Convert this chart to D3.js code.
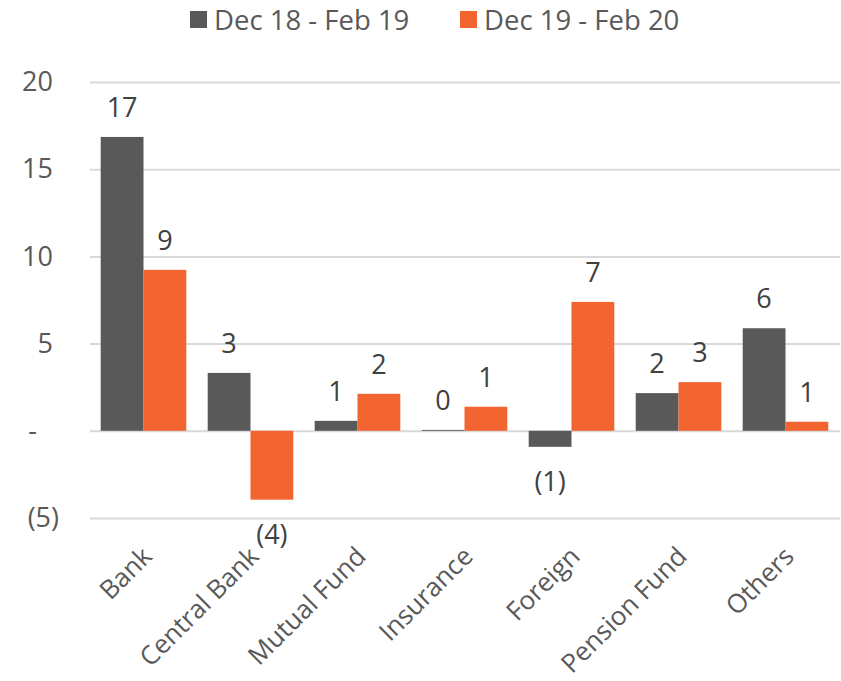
<!DOCTYPE html>
<html>
<head>
<meta charset="utf-8">
<script src="https://cdn.jsdelivr.net/npm/d3@7"></script>
<style>
  body { margin: 0; background: #fff; }
  text { font-family: "Open Sans", sans-serif; }
</style>
</head>
<body>
<div id="chart"></div>
<script>
const categories = ["Bank", "Central Bank", "Mutual Fund", "Insurance", "Foreign", "Pension Fund", "Others"];
const seriesNames = ["Dec 18 - Feb 19", "Dec 19 - Feb 20"];
const dec18 = [16.85, 3.32, 0.57, 0.05, -0.92, 2.16, 5.88];
const dec19 = [9.23, -3.95, 2.12, 1.38, 7.39, 2.79, 0.52];
const yTicks = [-5, 0, 5, 10, 15, 20];
const colors = ["#595959", "#f26531"];

const width = 841, height = 681;
const svg = d3.select("#chart").append("svg")
  .attr("width", width)
  .attr("height", height);

const x = d3.scaleBand().domain(categories).range([90, 839])
  .paddingInner(0.2).paddingOuter(0.1);
const xs = d3.scaleBand().domain(seriesNames).range([0, x.bandwidth()]);
const y = d3.scaleLinear().domain([-5, 20]).range([518, 82]);

// accounting style: zero as "-", negatives in brackets
const fmtAxis = v => v === 0 ? "-" : v < 0 ? "(" + Math.abs(v) + ")" : String(v);
const fmtLabel = v => {
  const r = Math.round(Math.abs(v));
  return v < 0 && r !== 0 ? "(" + r + ")" : String(r);
};

// gridlines + y labels
const yAxis = svg.append("g").attr("transform", "translate(90,0)")
  .call(d3.axisLeft(y).tickValues(yTicks).tickSize(-750).tickFormat(fmtAxis));
yAxis.select(".domain").remove();
yAxis.selectAll(".tick line").attr("stroke", "#d9d9d9").attr("stroke-width", 2);
yAxis.selectAll(".tick text")
  .attr("x", d => d < 0 ? -31 : d === 0 ? -53 : -37)
  .attr("fill", "#595959")
  .style("font-size", "27px")
  .attr("text-anchor", "end");

const data = categories.map((c, i) => ({ cat: c, vals: [dec18[i], dec19[i]] }));

const groups = svg.append("g").selectAll("g").data(data).join("g")
  .attr("transform", d => `translate(${x(d.cat)},0)`);

groups.selectAll("rect")
  .data(d => d.vals.map((v, j) => ({ v, s: seriesNames[j], j })))
  .join("rect")
  .attr("x", d => xs(d.s))
  .attr("width", xs.bandwidth())
  .attr("y", d => y(Math.max(0, d.v)))
  .attr("height", d => Math.abs(y(d.v) - y(0)))
  .attr("fill", d => colors[d.j]);

groups.selectAll("text.lbl")
  .data(d => d.vals.map((v, j) => ({ v, s: seriesNames[j] })))
  .join("text")
  .attr("class", "lbl")
  .attr("x", d => xs(d.s) + xs.bandwidth() / 2)
  .attr("y", d => d.v >= 0 ? y(d.v) - 20 : y(d.v) + 19)
  .attr("dy", d => d.v >= 0 ? "0" : "0.95em")
  .attr("text-anchor", "middle")
  .attr("fill", "#404040")
  .style("font-size", "27px")
  .text(d => fmtLabel(d.v));

// x category labels
svg.append("g").selectAll("text").data(categories).join("text")
  .attr("transform", d => `translate(${x(d) + x.bandwidth() / 2 + 10},558) rotate(-45)`)
  .attr("text-anchor", "end")
  .attr("fill", "#595959")
  .style("font-size", "26px")
  .text(d => d);

// legend
const legend = svg.append("g").selectAll("g").data(seriesNames).join("g")
  .attr("transform", (d, i) => `translate(${[190, 460][i]},0)`);
legend.append("rect").attr("x", 0).attr("y", 11).attr("width", 17).attr("height", 17)
  .attr("fill", (d, i) => colors[i]);
legend.append("text").attr("x", 24).attr("y", 30)
  .attr("fill", "#595959")
  .style("font-size", "27.5px")
  .text(d => d);
</script>
</body>
</html>
